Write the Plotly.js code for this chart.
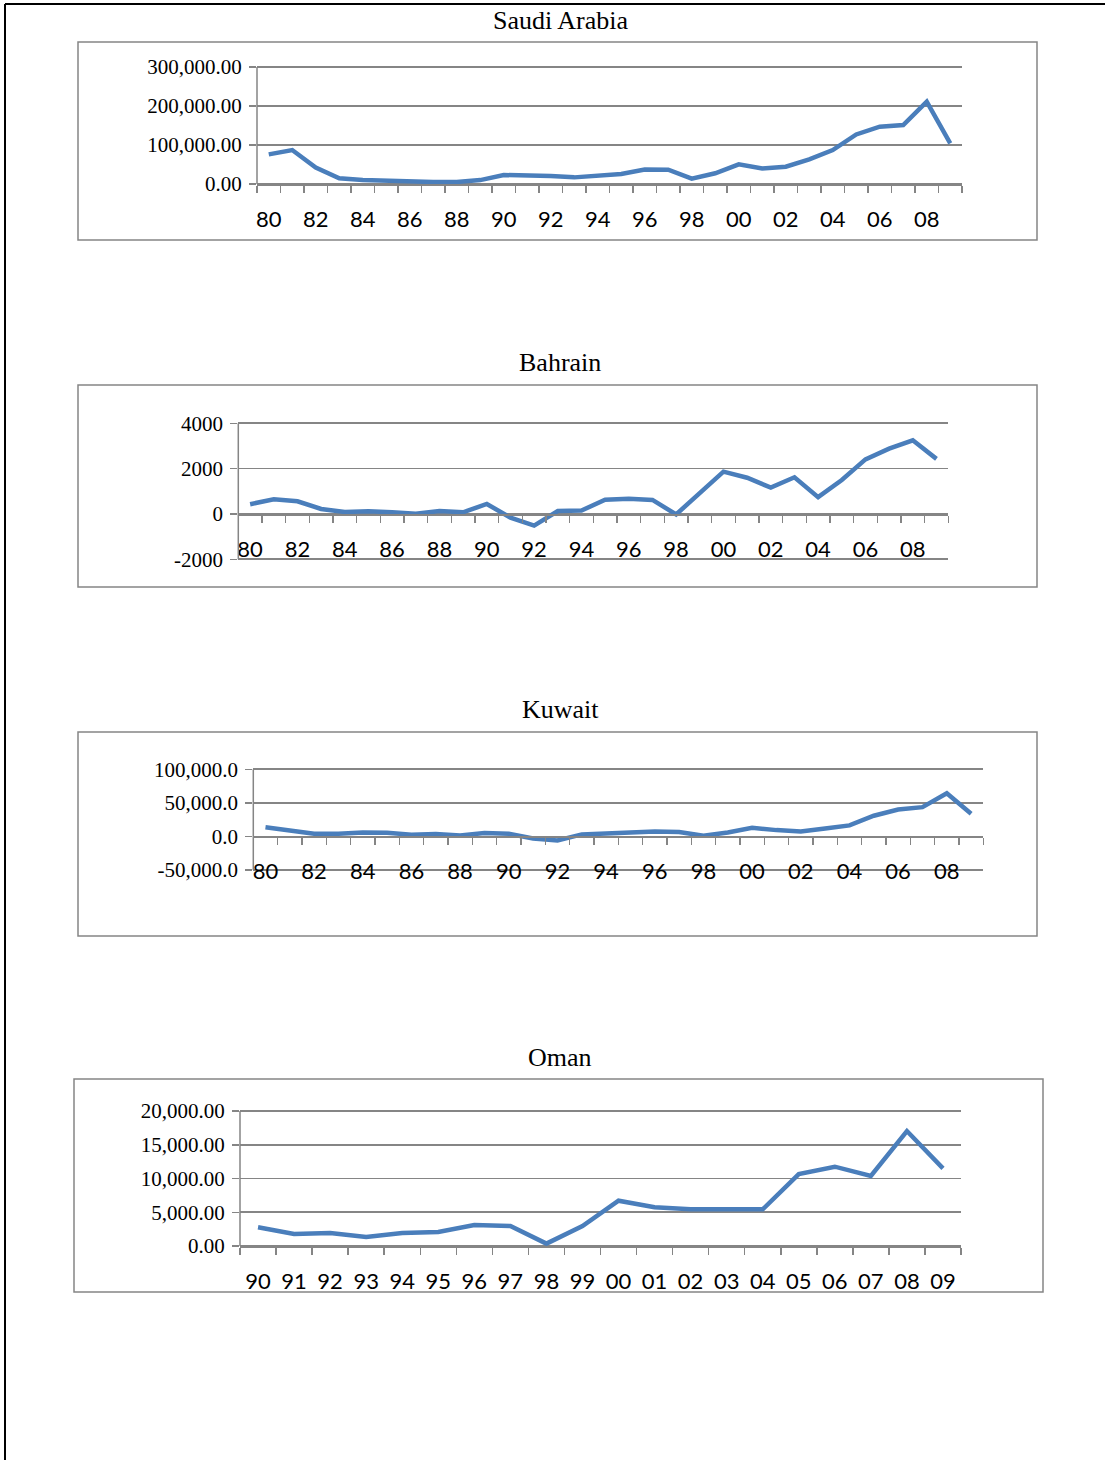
<!DOCTYPE html>
<html><head><meta charset="utf-8">
<script src="https://cdn.plot.ly/plotly-3.0.1.min.js"></script>
<style>html,body{margin:0;padding:0;background:#fff;} #chart{width:1105px;height:1460px;}</style>
</head><body><div id="chart"></div>
<script>
// ---------- DATA ----------
const yearsLong = [1980,1981,1982,1983,1984,1985,1986,1987,1988,1989,1990,1991,1992,1993,1994,1995,1996,1997,1998,1999,2000,2001,2002,2003,2004,2005,2006,2007,2008,2009];
const yearsOman = [1990,1991,1992,1993,1994,1995,1996,1997,1998,1999,2000,2001,2002,2003,2004,2005,2006,2007,2008,2009];

const saudiValues = [76000,87000,42000,14600,10000,8500,4300,5000,5000,10000,23000,23000,20500,17000,22000,25500,37000,36700,13600,27400,50400,40000,44400,63000,87000,127000,147000,151000,211000,104000];
const bahrainValues = [430,650,560,220,90,120,75,15,130,75,440,-160,-515,130,150,630,675,620,-20,940,1866,1600,1160,1620,740,1500,2410,2880,3250,2430];
const kuwaitValues = [13800,8900,4000,4000,6000,5500,2500,3500,1500,5000,4000,-3000,-6000,3000,4500,5000,7400,6500,1000,6000,12900,9400,7400,11900,16400,30800,40200,43600,64400,33800];
const omanValues = [2770,1780,1925,1330,1925,2070,3110,2960,350,2950,6710,5730,5430,5480,5430,10660,11750,10370,17030,11500];

const xTickValsLong = [1980,1982,1984,1986,1988,1990,1992,1994,1996,1998,2000,2002,2004,2006,2008];
const xTickTextLong = ["80","82","84","86","88","90","92","94","96","98","00","02","04","06","08"];
const xTickTextOman = ["90","91","92","93","94","95","96","97","98","99","00","01","02","03","04","05","06","07","08","09"];

const saudiYTicks = [0,100000,200000,300000];
const saudiYText = ["0.00","100,000.00","200,000.00","300,000.00"];
const bahrainYTicks = [-2000,0,2000,4000];
const bahrainYText = ["-2000","0","2000","4000"];
const kuwaitYTicks = [-50000,0,50000,100000];
const kuwaitYText = ["-50,000.0","0.0","50,000.0","100,000.0"];
const omanYTicks = [0,5000,10000,15000,20000];
const omanYText = ["0.00","5,000.00","10,000.00","15,000.00","20,000.00"];

const titles = ["Saudi Arabia","Bahrain","Kuwait","Oman"];

// ---------- LAYOUT ----------
const W = 1105, H = 1460;
const GRAY = '#858585';
const LINE = '#4a7ebb';
const PAD = 1.5; // px of extra room so edge gridlines are drawn

const panels = [
  {name:titles[0], years:yearsLong, vals:saudiValues, xr:[1979.5,2009.5], yr:[0,300000], tv:saudiYTicks, tt:saudiYText,
   xtv:xTickValsLong, xtt:xTickTextLong, px:[257,962], py:[67,184], axisY:184, box:[78,42,1037,240], titleY:20},
  {name:titles[1], years:yearsLong, vals:bahrainValues, xr:[1979.5,2009.5], yr:[-2000,4000], tv:bahrainYTicks, tt:bahrainYText,
   xtv:xTickValsLong, xtt:xTickTextLong, px:[238.3,948.3], py:[423.3,559.3], axisY:514, box:[78,385,1037,587], titleY:363},
  {name:titles[2], years:yearsLong, vals:kuwaitValues, xr:[1979.5,2009.5], yr:[-50000,100000], tv:kuwaitYTicks, tt:kuwaitYText,
   xtv:xTickValsLong, xtt:xTickTextLong, px:[253.3,983.3], py:[769.3,870], axisY:836, box:[78,732,1037,936], titleY:710},
  {name:titles[3], years:yearsOman, vals:omanValues, xr:[1989.5,2009.5], yr:[0,20000], tv:omanYTicks, tt:omanYText,
   xtv:yearsOman, xtt:xTickTextOman, px:[240,961], py:[1111,1246], axisY:1246, box:[74,1079,1043,1292], titleY:1057}
];

const data = [];
const layout = {
  width: W, height: H,
  margin: {l:0, r:0, t:0, b:0},
  paper_bgcolor: '#fff', plot_bgcolor: 'rgba(0,0,0,0)',
  showlegend: false, hovermode: false,
  shapes: [], annotations: []
};

panels.forEach((p, i) => {
  const n = i === 0 ? '' : String(i + 1);
  data.push({
    type: 'scatter', mode: 'lines', x: p.years, y: p.vals,
    xaxis: 'x' + n, yaxis: 'y' + n,
    line: {color: LINE, width: 4.5}
  });
  const hPx = p.py[1] - p.py[0];
  const perPx = (p.yr[1] - p.yr[0]) / hPx;
  const yRange = [p.yr[0] - PAD * perPx, p.yr[1] + PAD * perPx];
  const yd = [1 - (p.py[1] + PAD) / H, 1 - (p.py[0] - PAD) / H];
  layout['xaxis' + n] = {
    domain: [p.px[0] / W, p.px[1] / W],
    range: p.xr, anchor: 'free', position: 1 - p.axisY / H,
    showgrid: false, zeroline: false,
    showline: true, linecolor: GRAY, linewidth: 1.5,
    tickmode: 'array', tickvals: p.xtv, ticktext: p.xtt,
    ticks: '', ticklabelstandoff: 15,
    tickfont: {family: 'Lato, "Open Sans", sans-serif', size: 22, color: '#000'},
    minor: {tickmode: 'linear', tick0: p.xr[0], dtick: 1, ticks: 'outside', ticklen: 7, tickwidth: 1.5, tickcolor: GRAY, showgrid: false},
    fixedrange: true
  };
  layout['yaxis' + n] = {
    domain: yd, range: yRange, anchor: 'x' + n,
    showgrid: true, gridcolor: GRAY, gridwidth: 1.6, zeroline: false,
    showline: false,
    tickmode: 'array', tickvals: p.tv, ticktext: p.tt,
    ticks: 'outside', ticklen: 7, tickwidth: 1.5, tickcolor: GRAY,
    ticklabelstandoff: 3,
    tickfont: {family: '"Liberation Serif", "Times New Roman", serif', size: 21, color: '#000'},
    fixedrange: true
  };
  // vertical value-axis line from lowest to highest gridline
  layout.shapes.push({
    type: 'line', xref: 'x' + n + ' domain', yref: 'y' + n,
    x0: 0, x1: 0, y0: p.yr[0], y1: p.yr[1],
    line: {color: GRAY, width: 1.5}
  });
  layout.shapes.push({
    type: 'rect', xref: 'paper', yref: 'paper',
    x0: p.box[0] / W, x1: p.box[2] / W, y0: 1 - p.box[3] / H, y1: 1 - p.box[1] / H,
    line: {color: GRAY, width: 1.5}, fillcolor: 'rgba(0,0,0,0)', layer: 'below'
  });
  layout.annotations.push({
    xref: 'paper', yref: 'paper', x: 560 / W, y: 1 - p.titleY / H,
    xanchor: 'center', yanchor: 'middle', showarrow: false,
    text: p.name,
    font: {family: '"Liberation Serif", "Times New Roman", serif', size: 26, color: '#000'}
  });
});

// page frame
layout.shapes.push({type:'line', xref:'paper', yref:'paper', x0:5/W, x1:5/W, y0:0, y1:1-4/H, line:{color:'#000', width:2}});
layout.shapes.push({type:'line', xref:'paper', yref:'paper', x0:5/W, x1:1, y0:1-4/H, y1:1-4/H, line:{color:'#000', width:2}});

Plotly.newPlot('chart', data, layout, {staticPlot: true, displayModeBar: false});
</script>
</body></html>
